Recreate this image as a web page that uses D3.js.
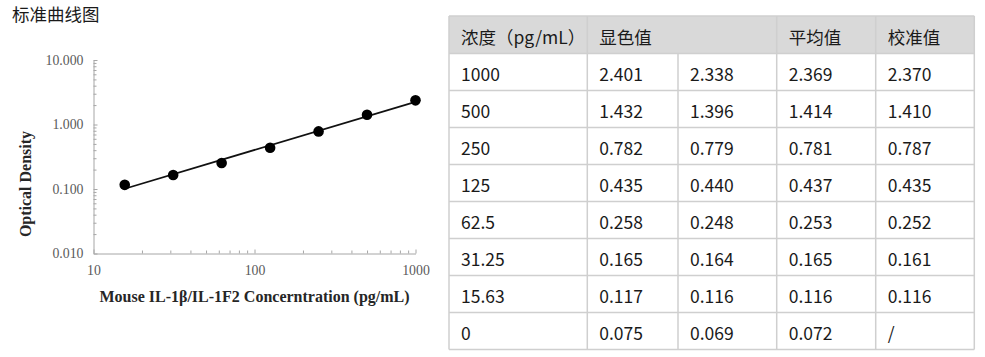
<!DOCTYPE html>
<html><head><meta charset="utf-8">
<script src="https://cdn.jsdelivr.net/npm/d3@7"></script>
<style>
html,body{margin:0;padding:0;background:#fff;}
svg{display:block;}
</style></head>
<body>
<svg id="c" width="985" height="357"></svg>
<script>
// ---- data ----
const title = "标准曲线图";
const concentrations = [1000, 500, 250, 125, 62.5, 31.25, 15.63, 0];
const od1 = [2.401, 1.432, 0.782, 0.435, 0.258, 0.165, 0.117, 0.075];
const od2 = [2.338, 1.396, 0.779, 0.440, 0.248, 0.164, 0.116, 0.069];
const odMean = [2.369, 1.414, 0.781, 0.437, 0.253, 0.165, 0.116, 0.072];
const odCalib = [2.370, 1.410, 0.787, 0.435, 0.252, 0.161, 0.116, null];
const headers = ["浓度（pg/mL）", "显色值", "平均值", "校准值"];
const yTicks = [10, 1, 0.1, 0.01];
const xTicks = [10, 100, 1000];
const xLabel = "Mouse IL-1β/IL-1F2 Concerntration (pg/mL)";
const yLabel = "Optical Density";

const svg = d3.select("#c");
const serif = "'Liberation Serif','Times New Roman',serif";
const cjk = "'Noto Sans CJK SC','Noto Sans',sans-serif";

svg.append("text").attr("x", 12).attr("y", 21)
  .attr("font-family", cjk).attr("font-size", 17.5).attr("fill", "#1a1a1a").text(title);

// ---- chart ----
const x = d3.scaleLog().domain([10, 1000]).range([93.5, 415.5]);
const y = d3.scaleLog().domain([0.01, 10]).range([253.5, 60]);
const axisColor = "#a6a6a6";

function minorVals(lo, hi) {
  const v = [];
  for (let d = lo; d < hi; d *= 10) for (let k = 2; k <= 9; k++) v.push(d * k);
  return v;
}

const gx = svg.append("g").attr("transform", "translate(0,253.5)");
gx.call(d3.axisBottom(x).tickValues(xTicks).tickSizeInner(-4).tickSizeOuter(0).tickPadding(12).tickFormat(d3.format("d")));
const gxm = svg.append("g").attr("transform", "translate(0,253.5)");
gxm.call(d3.axisBottom(x).tickValues(minorVals(10, 1000)).tickSize(-3).tickFormat(""));
gxm.select(".domain").remove();

const gy = svg.append("g").attr("transform", "translate(93.5,0)");
gy.call(d3.axisLeft(y).tickValues(yTicks).tickSizeInner(-4).tickSizeOuter(0).tickPadding(10).tickFormat(d3.format(".3f")));
const gym = svg.append("g").attr("transform", "translate(93.5,0)");
gym.call(d3.axisLeft(y).tickValues(minorVals(0.01, 10)).tickSize(-3).tickFormat(""));
gym.select(".domain").remove();

svg.selectAll(".domain, .tick line").attr("stroke", axisColor);
svg.selectAll(".tick text").attr("font-family", serif).attr("font-size", 13.8).attr("fill", "#595959");

// fit line (log-log linear regression of mean values)
const pts = concentrations.map((c, i) => ({c, v: odMean[i]})).filter(d => d.c > 0);
const lx = pts.map(d => Math.log10(d.c)), ly = pts.map(d => Math.log10(d.v));
const mx = d3.mean(lx), my = d3.mean(ly);
const slope = d3.sum(lx, (v, i) => (v - mx) * (ly[i] - my)) / d3.sum(lx, v => (v - mx) ** 2);
const icpt = my - slope * mx;
const cExt = d3.extent(pts, d => d.c);
const fit = c => Math.pow(10, icpt + slope * Math.log10(c));
svg.append("path")
  .attr("d", d3.line().x(d => x(d)).y(d => y(fit(d)))(cExt))
  .attr("stroke", "#111").attr("stroke-width", 1.7).attr("fill", "none");

svg.append("g").selectAll("circle").data(pts).join("circle")
  .attr("cx", d => x(d.c)).attr("cy", d => y(d.v)).attr("r", 5.3).attr("fill", "#000");

svg.append("text").attr("x", 254.5).attr("y", 301.5).attr("text-anchor", "middle")
  .attr("font-family", serif).attr("font-weight", "bold").attr("font-size", 16).attr("fill", "#262626").text(xLabel);
svg.append("text").attr("transform", "translate(31,184) rotate(-90)").attr("text-anchor", "middle")
  .attr("font-family", serif).attr("font-weight", "bold").attr("font-size", 16).attr("fill", "#262626").text(yLabel);

// ---- table ----
const colEdges = [449, 587.3, 678, 776.7, 875.7, 974.3];
const tTop = 16, headH = 37.5, rowH = 37;
const nRows = concentrations.length;
const tBottom = tTop + headH + rowH * nRows;
const tbl = svg.append("g");
const borderC = "#cfcfcf";

tbl.append("rect").attr("x", colEdges[0]).attr("y", tTop)
  .attr("width", colEdges[5] - colEdges[0]).attr("height", headH).attr("fill", "#d9d9d9");

const headerCols = [0, 1, 3, 4];
tbl.selectAll("text.h").data(headers).join("text").attr("class", "h")
  .attr("x", (d, i) => colEdges[headerCols[i]] + 12).attr("y", tTop + 27.5)
  .attr("font-family", cjk).attr("font-size", 17.5).attr("fill", "#1a1a1a").text(d => d);

const rows = concentrations.map((c, i) => [String(c), od1[i].toFixed(3), od2[i].toFixed(3), odMean[i].toFixed(3), odCalib[i] == null ? "/" : odCalib[i].toFixed(3)]);
rows.forEach((r, ri) => {
  tbl.append("g").selectAll("text").data(r).join("text")
    .attr("x", (d, ci) => colEdges[ci] + 12).attr("y", tTop + headH + rowH * ri + 27.5)
    .attr("font-family", cjk).attr("font-size", 17.5).attr("fill", "#1a1a1a").text(d => d);
});

const hl = [tTop, tTop + headH].concat(d3.range(1, nRows + 1).map(k => tTop + headH + rowH * k));
tbl.selectAll("line.hz").data(hl).join("line").attr("class", "hz")
  .attr("x1", colEdges[0]).attr("x2", colEdges[5]).attr("y1", d => d).attr("y2", d => d)
  .attr("stroke", borderC).attr("stroke-width", 1.5);
colEdges.forEach((cx, ci) => {
  tbl.append("line").attr("x1", cx).attr("x2", cx)
    .attr("y1", ci === 2 ? tTop + headH : tTop).attr("y2", tBottom)
    .attr("stroke", borderC).attr("stroke-width", 1.5);
});
</script>
</body></html>
